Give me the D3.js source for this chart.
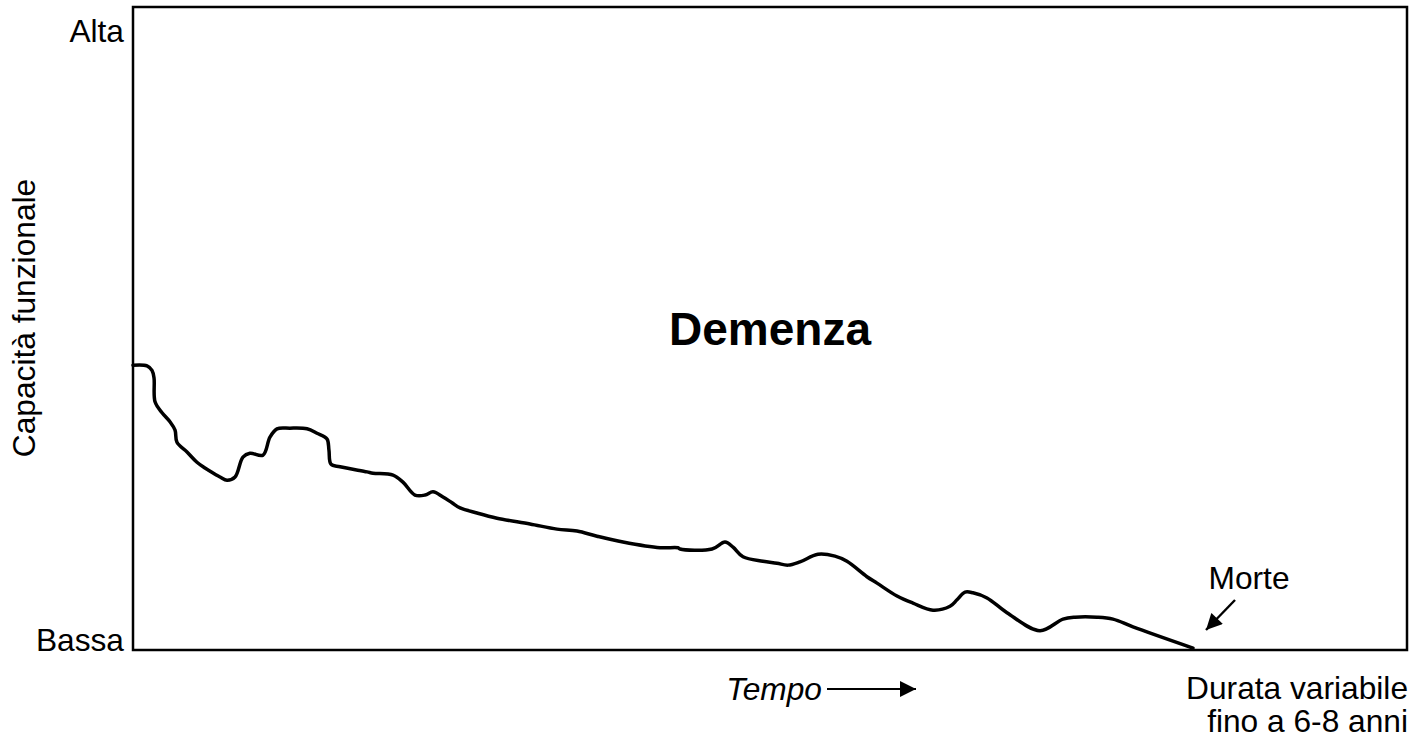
<!DOCTYPE html>
<html>
<head>
<meta charset="utf-8">
<script src="https://cdn.jsdelivr.net/npm/d3@7"></script>
<style>
  html, body { margin: 0; padding: 0; background: #fff; }
  svg { display: block; font-family: "Liberation Sans", Arial, sans-serif; }
</style>
</head>
<body>
<svg id="chart" width="1413" height="745"></svg>
<script>
// ---- data ----
const tempo = [0, 1.10, 1.49, 1.65, 1.73, 2.28, 2.90, 3.30, 3.45, 4.24, 5.02, 5.65, 5.89, 6.83, 7.38, 8.01, 8.63, 9.18, 10.20, 10.75, 11.30, 12.32, 13.66, 14.44, 15.23, 15.38, 15.54, 16.25, 18.37, 18.84, 20.41, 21.19, 22.13, 22.92, 23.55, 24.33, 25.04, 25.67, 27.00, 28.57, 31.16, 33.28, 34.85, 36.42, 38.46, 41.37, 42.78, 42.94, 45.45, 46.47, 47.10, 47.88, 49.45, 50.55, 51.41, 52.35, 53.77, 55.10, 56.04, 57.61, 58.40, 59.97, 61.22, 62.79, 64.13, 64.68, 65.31, 65.93, 67.03, 68.60, 71.19, 73.00, 73.94, 75.67, 76.92, 78.49, 83.20];
const capacita = [44.3, 44.2, 43.5, 42.3, 38.6, 36.9, 35.5, 34.2, 32.3, 30.8, 29.2, 28.3, 28.0, 26.9, 26.4, 26.9, 30.0, 30.6, 30.3, 33.1, 34.4, 34.5, 34.4, 33.7, 32.8, 31.1, 28.9, 28.5, 27.7, 27.5, 27.2, 26.1, 24.1, 24.1, 24.6, 23.8, 22.9, 22.1, 21.3, 20.5, 19.6, 18.8, 18.5, 17.7, 16.8, 15.9, 15.9, 15.7, 15.7, 16.8, 16.0, 14.5, 13.8, 13.5, 13.2, 13.7, 14.9, 14.6, 13.8, 11.4, 10.4, 8.4, 7.3, 6.2, 6.8, 7.8, 9.0, 8.9, 8.1, 5.8, 3.0, 4.8, 5.1, 5.1, 4.8, 3.6, 0.3];
const yTickValues = [100, 0];
const yTickLabels = ["Alta", "Bassa"];
const titleText = "Demenza";
const yAxisTitle = "Capacità funzionale";
const xAxisTitle = "Tempo";
const deathLabel = "Morte";
const durationLines = ["Durata variabile", "fino a 6-8 anni"];

(function () {
// ---- layout ----
const svg = d3.select("#chart");
const mLeft = 133, mRight = 1407, mTop = 7, mBottom = 650;
const x = d3.scaleLinear().domain([0, 100]).range([mLeft, mRight]);
const y = d3.scaleLinear().domain([0, 100]).range([mBottom, mTop]);
const FS = 31.7;

// frame
svg.append("rect")
  .attr("x", x(0)).attr("y", y(100))
  .attr("width", x(100) - x(0)).attr("height", y(0) - y(100))
  .attr("fill", "none").attr("stroke", "#000").attr("stroke-width", 2.5);

// y tick labels
const yAxis = d3.axisLeft(y).tickValues(yTickValues)
  .tickFormat((d, i) => yTickLabels[i]).tickSize(0).tickPadding(9);
const gy = svg.append("g").attr("transform", `translate(${mLeft},0)`).call(yAxis);
gy.select(".domain").remove();
gy.selectAll("text")
  .attr("font-size", FS).attr("fill", "#000")
  .attr("font-family", '"Liberation Sans", Arial, sans-serif')
  .attr("dy", (d) => d === 100 ? "1.1em" : "0em");

// y axis title
svg.append("text")
  .attr("transform", `translate(35,318) rotate(-90)`)
  .attr("text-anchor", "middle").attr("font-size", FS).attr("fill", "#000")
  .text(yAxisTitle);

// title
svg.append("text")
  .attr("x", 770).attr("y", 345)
  .attr("text-anchor", "middle").attr("font-size", 46).attr("font-weight", "bold")
  .attr("fill", "#000").text(titleText);

// line
const pts = tempo.map((t, i) => [t, capacita[i]]);
const line = d3.line().x(d => x(d[0])).y(d => y(d[1])).curve(d3.curveCatmullRom.alpha(0.5));
svg.append("path").datum(pts)
  .attr("d", line).attr("fill", "none").attr("stroke", "#000")
  .attr("stroke-width", 3.5).attr("stroke-linejoin", "round").attr("stroke-linecap", "round");

// arrow markers
const defs = svg.append("defs");
defs.append("marker").attr("id", "ah")
  .attr("viewBox", "0 0 10 10").attr("refX", 10).attr("refY", 5)
  .attr("markerWidth", 18).attr("markerHeight", 16).attr("markerUnits", "userSpaceOnUse")
  .attr("orient", "auto")
  .append("path").attr("d", "M0,0 L10,5 L0,10 Z").attr("fill", "#000");
defs.append("marker").attr("id", "ah2")
  .attr("viewBox", "0 0 16 16").attr("refX", 16).attr("refY", 8)
  .attr("markerWidth", 16).attr("markerHeight", 16).attr("markerUnits", "userSpaceOnUse")
  .attr("orient", "auto")
  .append("path").attr("d", "M0,0 L16,8 L0,16 Z").attr("fill", "#000");

// Morte label + arrow
svg.append("text").attr("x", 1249).attr("y", 589)
  .attr("text-anchor", "middle").attr("font-size", FS).attr("fill", "#000").text(deathLabel);
svg.append("line").attr("x1", 1235).attr("y1", 600).attr("x2", 1206).attr("y2", 630)
  .attr("stroke", "#000").attr("stroke-width", 2.4).attr("marker-end", "url(#ah)");

// Tempo label + arrow
svg.append("text").attr("x", 822).attr("y", 700)
  .attr("text-anchor", "end").attr("font-size", FS).attr("font-style", "italic")
  .attr("fill", "#000").text(xAxisTitle);
svg.append("line").attr("x1", 827).attr("y1", 689).attr("x2", 916).attr("y2", 689)
  .attr("stroke", "#000").attr("stroke-width", 2).attr("marker-end", "url(#ah2)");

// duration text
svg.append("text").attr("text-anchor", "end").attr("font-size", FS).attr("fill", "#000")
  .selectAll("tspan").data(durationLines).join("tspan")
  .attr("x", 1408).attr("y", (d, i) => 699 + i * 33).text(d => d);
})();
</script>
</body>
</html>
